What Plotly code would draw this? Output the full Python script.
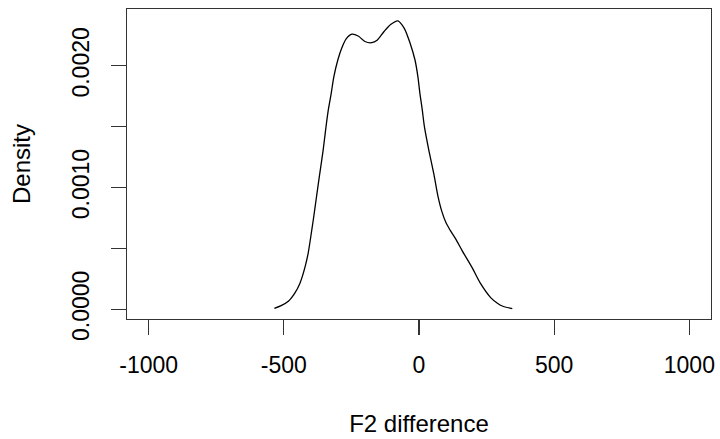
import plotly.graph_objects as go

# Density estimate of F2 difference
f2_diff = [-535, -510, -482, -460, -441, -430, -420, -410, -400, -390, -380,
           -368, -355, -345, -336, -325, -315, -300, -285, -270, -248, -225,
           -200, -175, -155, -130, -105, -78, -55, -32, -15, -4, 3, 12, 20,
           37, 55, 70, 85, 100, 115, 135, 160, 197, 228, 265, 290, 308, 345]
density = [0.000008, 0.00003, 0.000068, 0.00013, 0.00021, 0.00028, 0.00036,
           0.00046, 0.00060, 0.00075, 0.00091, 0.00110, 0.00130, 0.00148,
           0.00163, 0.00177, 0.00191, 0.00205, 0.00215, 0.00222, 0.00226,
           0.002245, 0.00220, 0.00219, 0.00221, 0.00228, 0.00234, 0.00237,
           0.00231, 0.00218, 0.00205, 0.00191, 0.00178, 0.00164, 0.00150,
           0.00130, 0.00111, 0.00093, 0.00080, 0.00071, 0.00065, 0.00058,
           0.00048, 0.00034, 0.00021, 0.000096, 0.00005, 0.000027, 0.000005]

x_ticks = [-1000, -500, 0, 500, 1000]
x_ticklabels = ["-1000", "-500", "0", "500", "1000"]
y_ticks = [0, 0.0005, 0.001, 0.0015, 0.002]
y_ticklabels = ["0.0000", "", "0.0010", "", "0.0020"]

font_family = "Liberation Sans, Arial, Helvetica, sans-serif"

fig = go.Figure()
fig.add_trace(go.Scatter(
    x=f2_diff, y=density, mode="lines",
    line=dict(color="black", width=1.3, shape="spline", smoothing=0.8),
    showlegend=False, hoverinfo="skip",
))

fig.update_layout(
    width=720, height=439,
    margin=dict(l=127, r=9, t=9, b=120, autoexpand=False),
    paper_bgcolor="white", plot_bgcolor="white",
    font=dict(family=font_family, size=23, color="black"),
    xaxis=dict(
        range=[-1080, 1080], tickvals=x_ticks, ticktext=x_ticklabels,
        showgrid=False, zeroline=False, showline=True, mirror=True,
        linecolor="#333333", linewidth=1.2, automargin=False,
        ticks="outside", ticklen=15, tickwidth=1.2, tickcolor="#333333",
        ticklabelstandoff=10, tickfont=dict(size=23),
        title=dict(text="F2 difference", standoff=38, font=dict(size=24)),
    ),
    yaxis=dict(
        range=[-0.00008, 0.002467], tickvals=y_ticks, ticktext=y_ticklabels,
        showgrid=False, zeroline=False, showline=True, mirror=True,
        linecolor="#333333", linewidth=1.2, automargin=False,
        ticks="outside", ticklen=15, tickwidth=1.2, tickcolor="#333333",
        tickangle=-90, ticklabelstandoff=13, tickfont=dict(size=23),
        title=dict(text="Density", standoff=30, font=dict(size=24)),
    ),
)

# Remove the default page margin so the 720x439 figure fills the window.
fig.write_html(
    "out.html",
    config={"displayModeBar": False, "staticPlot": True},
    post_script="document.body.style.margin='0';document.body.style.overflow='hidden';",
)
